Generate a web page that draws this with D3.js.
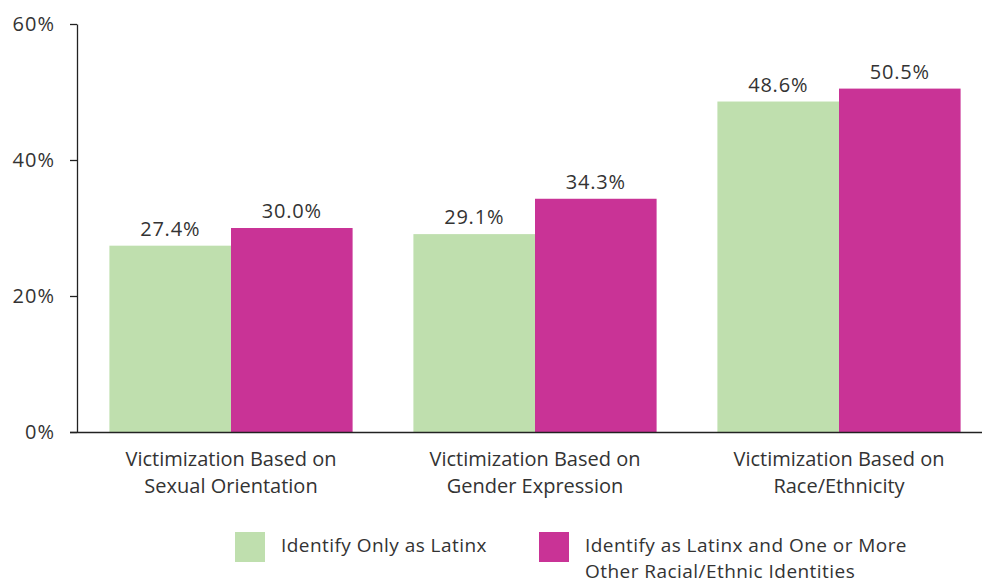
<!DOCTYPE html>
<html><head><meta charset="utf-8">
<script src="https://cdn.jsdelivr.net/npm/d3@7"></script>
<style>
html,body{margin:0;padding:0;background:#fff;}
svg text{font-family:"Open Sans","Liberation Sans",Arial,sans-serif;fill:#333;}
</style></head>
<body>
<svg id="chart" width="982" height="584"></svg>
<script>
const categories = [
  ["Victimization Based on","Sexual Orientation"],
  ["Victimization Based on","Gender Expression"],
  ["Victimization Based on","Race/Ethnicity"]
];
const seriesNames = ["Identify Only as Latinx", "Identify as Latinx and One or More|Other Racial/Ethnic Identities"];
const onlyLatinx = [27.4, 29.1, 48.6];
const multiRacial = [30.0, 34.3, 50.5];
const yTicks = [0, 20, 40, 60];
const colors = ["#bfdfae", "#c93396"];

const FONT = "Open Sans, Liberation Sans, Arial, sans-serif";
const svg = d3.select("#chart");
const mLeft = 77, mTop = 24, mBottom = 432;
const catIdx = d3.range(categories.length);
const x0 = d3.scaleBand().domain(catIdx).range([79, 991]).paddingInner(0.2).paddingOuter(0.1);
const x1 = d3.scaleBand().domain([0,1]).range([0, x0.bandwidth()]);
const y = d3.scaleLinear().domain([0, 60]).range([mBottom, mTop]);

// y axis
const yAxis = svg.append("g").attr("transform", `translate(${mLeft},0)`)
  .call(d3.axisLeft(y).tickValues(yTicks).tickFormat(d => d + "%").tickSize(7).tickPadding(15).tickSizeOuter(0));
yAxis.select(".domain").attr("stroke", "#222").attr("stroke-width", 1.3);
yAxis.selectAll(".tick line").attr("stroke", "#222").attr("stroke-width", 1.3);
yAxis.selectAll(".tick text").attr("font-size", 20).attr("letter-spacing", 1).attr("fill", "#333").attr("font-family", FONT);

const series = [onlyLatinx, multiRacial];
const g = svg.append("g");
series.forEach((vals, si) => {
  g.selectAll(null).data(vals).enter().append("rect")
    .attr("x", (d, i) => x0(i) + x1(si))
    .attr("width", x1.bandwidth())
    .attr("y", d => y(d))
    .attr("height", d => mBottom - y(d))
    .attr("fill", colors[si]);
  g.selectAll(null).data(vals).enter().append("text")
    .attr("x", (d, i) => x0(i) + x1(si) + x1.bandwidth() / 2)
    .attr("y", d => y(d) - 10)
    .attr("text-anchor", "middle")
    .attr("font-size", 20)
    .attr("letter-spacing", 0.8)
    .text(d => d.toFixed(1) + "%");
});

// x axis line
svg.append("line").attr("x1", 70).attr("x2", 982).attr("y1", mBottom + 0.5).attr("y2", mBottom + 0.5)
  .attr("stroke", "#222").attr("stroke-width", 1.3);

// category labels
categories.forEach((lines, i) => {
  const cx = x0(i) + x0.bandwidth() / 2;
  const t = svg.append("text").attr("text-anchor", "middle").attr("font-size", 20)
    .attr("x", cx).attr("y", 466);
  lines.forEach((l, k) => t.append("tspan").attr("x", cx).attr("dy", k ? 26.5 : 0).text(l));
});

// legend
const legX = [235, 539];
seriesNames.forEach((name, i) => {
  svg.append("rect").attr("x", legX[i]).attr("y", 532).attr("width", 30).attr("height", 30).attr("fill", colors[i]);
  const t = svg.append("text").attr("font-size", 19).attr("letter-spacing", 0.45)
    .attr("x", legX[i] + 46).attr("y", 552);
  name.split("|").forEach((l, k) => t.append("tspan").attr("x", legX[i] + 46).attr("dy", k ? 26 : 0).text(l));
});
</script>
</body></html>
